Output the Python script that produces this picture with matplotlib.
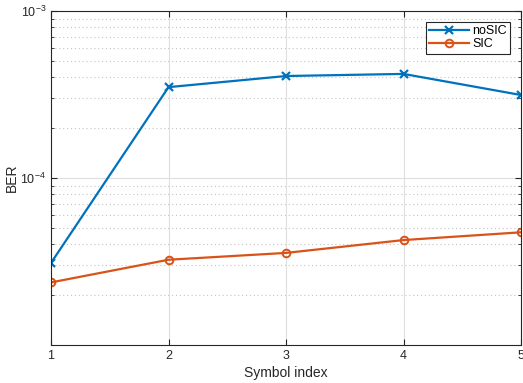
import matplotlib
matplotlib.use("Agg")
import matplotlib.pyplot as plt
from matplotlib.ticker import LogLocator, NullFormatter, FixedLocator

plt.rcParams['font.family'] = ['Liberation Sans', 'DejaVu Sans']

symbols = [1, 2, 3, 4, 5]
ber_nosic = [3.1e-5, 3.5e-4, 4.08e-4, 4.2e-4, 3.14e-4]
ber_sic = [2.37e-5, 3.24e-5, 3.56e-5, 4.25e-5, 4.73e-5]

blue = '#0072BD'
orange = '#D95319'

fig = plt.figure(figsize=(5.23, 3.83), dpi=100)
ax = fig.add_axes([51/523, 1 - 345/383, (521-51)/523, (345-11)/383])

ax.plot(symbols, ber_nosic, color=blue, lw=1.6, marker='x', ms=6, mew=1.6, label='noSIC')
ax.plot(symbols, ber_sic, color=orange, lw=1.6, marker='o', ms=5.5, mew=1.4,
        mfc='none', label='SIC')

ax.set_yscale('log')
ax.set_xlim(1, 5)
ax.set_ylim(1e-5, 1e-3)
ax.set_xticks([1, 2, 3, 4, 5])
ax.yaxis.set_major_locator(FixedLocator([1e-4, 1e-3]))
ax.yaxis.set_minor_locator(LogLocator(base=10, subs=range(2, 10)))
ax.yaxis.set_minor_formatter(NullFormatter())

ax.grid(True, which='major', color='#DFDFDF', lw=0.8, ls='-')
ax.grid(True, which='minor', axis='y', color='#C4C4C4', lw=0.8, ls=(0, (1, 2.5)))
ax.set_axisbelow(True)

for s in ax.spines.values():
    s.set_color('#262626')
    s.set_linewidth(0.8)
ax.tick_params(which='both', direction='in', top=True, right=True, colors='#262626',
               labelsize=9, labelcolor='#262626')
ax.tick_params(which='major', length=4)
ax.tick_params(which='minor', length=2)

ax.set_xlabel('Symbol index', fontsize=10, color='#262626', labelpad=3)
ax.set_ylabel('BER', fontsize=10, color='#262626', labelpad=1)

leg = ax.legend(loc='upper right', bbox_to_anchor=(0.977, 0.967), borderaxespad=0,
                fontsize=9, fancybox=False, framealpha=1, edgecolor='#262626',
                handlelength=3.2, borderpad=0.25, labelspacing=0.1, handletextpad=0.3)
leg.get_frame().set_linewidth(0.8)

fig.savefig('out.png', dpi=100)
